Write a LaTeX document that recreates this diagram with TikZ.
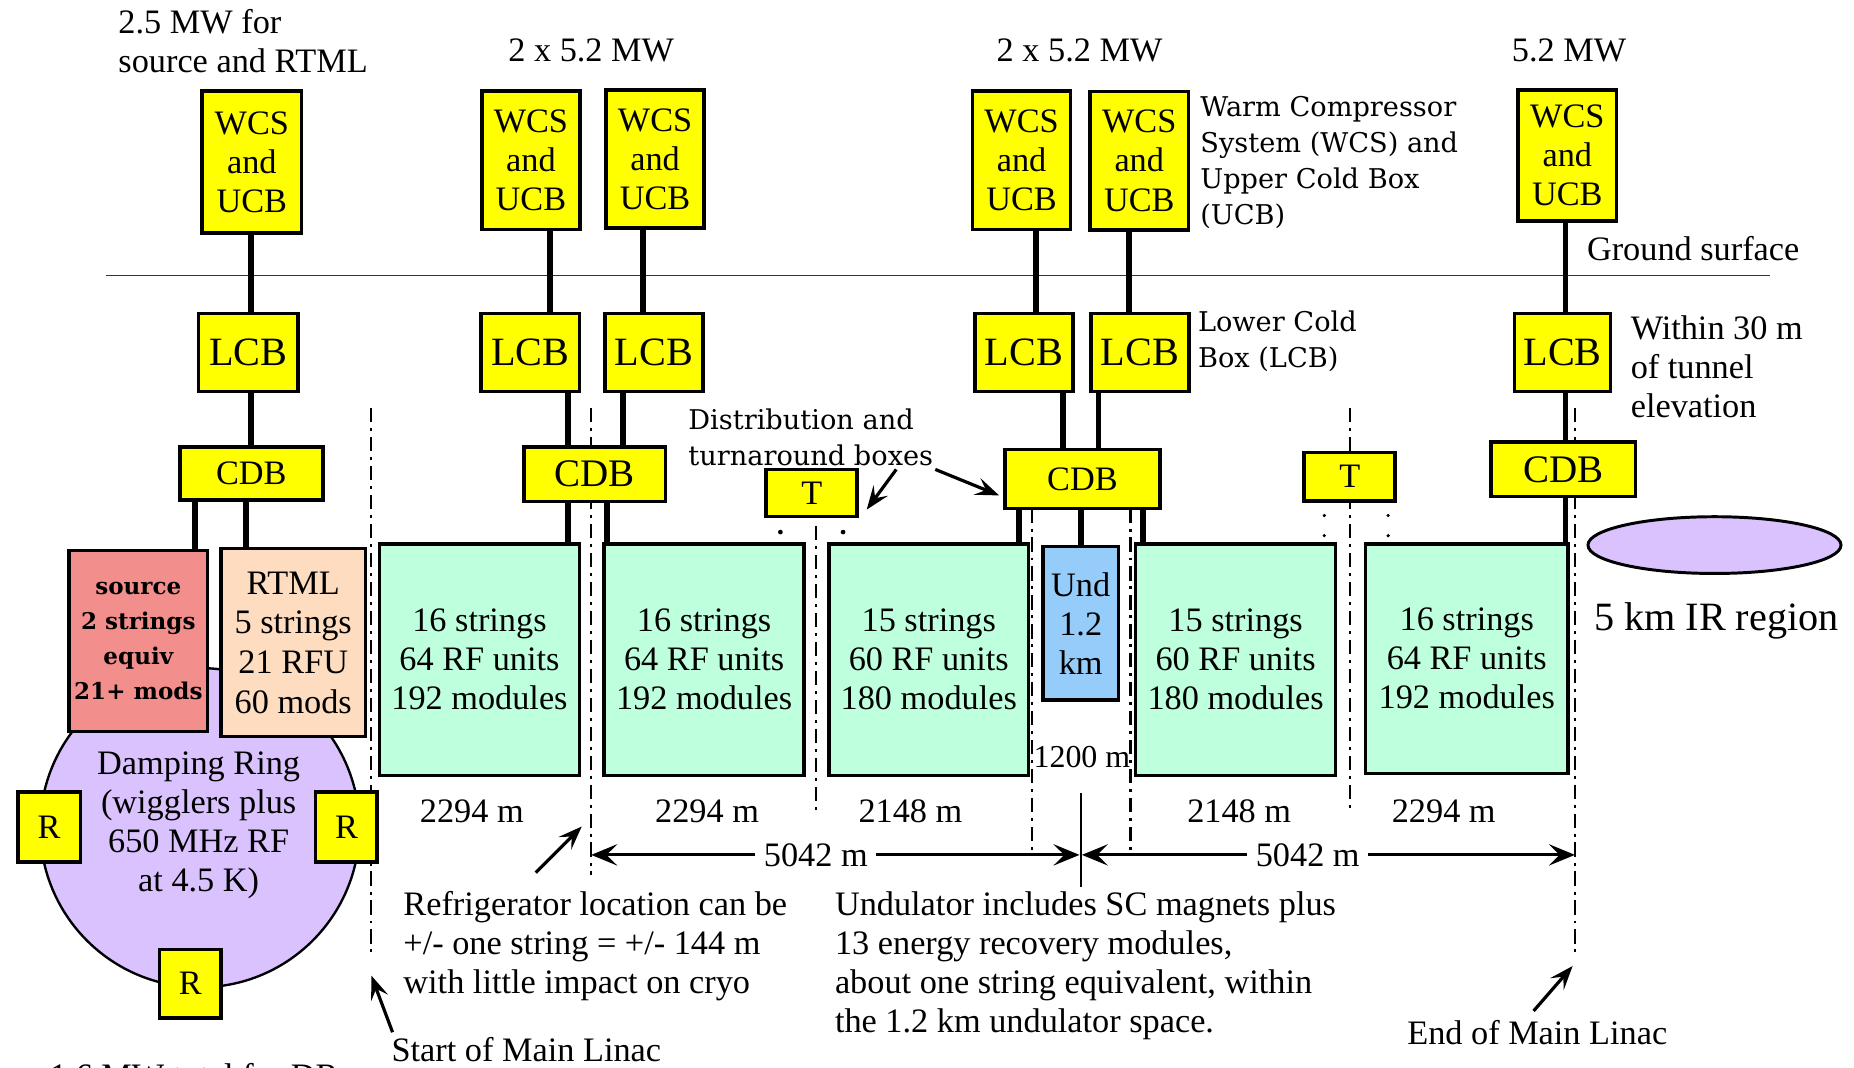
\documentclass[tikz,border=0pt]{standalone}
\usepackage{fontspec}
\setmainfont{Liberation Serif}
\newfontfamily\widefont{DejaVu Serif}
\usetikzlibrary{arrows.meta,shapes.geometric}
\definecolor{ylw}{RGB}{255,255,0}
\definecolor{mint}{RGB}{190,255,222}
\definecolor{salmon}{RGB}{242,142,140}
\definecolor{peach}{RGB}{253,220,192}
\definecolor{lav}{RGB}{218,194,255}
\definecolor{undblue}{RGB}{150,204,250}
\begin{document}
\begin{tikzpicture}[x=1pt,y=-1pt,
  box/.style={draw, line width=3pt, inner sep=0pt, align=center, font=\fontsize{29pt}{33pt}\selectfont},
  ybox/.style={box, fill=ylw},
  wcsbox/.style={ybox, minimum width=83pt, minimum height=117pt},
  lcbbox/.style={ybox, minimum width=83pt, minimum height=66pt, font=\fontsize{34pt}{40pt}\selectfont},
  gbox/.style={box, fill=mint, minimum width=169pt, minimum height=196pt},
  rbox/.style={ybox, minimum width=53pt, minimum height=59pt},
  txt/.style={inner sep=0pt, font=\fontsize{29pt}{33pt}\selectfont},
  wtxt/.style={inner sep=0pt, font=\widefont\fontsize{23pt}{30.5pt}\selectfont},
  conn/.style={line width=5pt},
  dd/.style={line width=2pt, dash pattern=on 12pt off 5pt on 2.5pt off 5pt},
  dim/.style={line width=2.5pt, -{Stealth[length=22pt,width=18pt,inset=9pt]}},
  ann/.style={line width=2.7pt, -{Stealth[length=20pt,width=15pt,inset=8pt]}},
  dotl/.style={line width=3pt, line cap=round, dash pattern=on 0pt off 17pt}
]
\useasboundingbox (0,0) rectangle (1568,903);
\fill[white] (0,0) rectangle (1568,903);

% ---------- dash-dot boundary lines (behind boxes)
\draw[dd] (314,345) -- (314,810);
\draw[dd] (500,345) -- (500,740);
\draw[dd] (690,445) -- (690,685);
\draw[dd] (873,430) -- (873,723);
\draw[dd] (956,430) -- (956,723);
\draw[dd] (1142,345) -- (1142,687);
\draw[dd] (1332,345) -- (1332,810);
% dots under T boxes
\fill (660,450) circle (2pt);
\fill (713,450) circle (2pt);
\draw[dotl] (1120,436) -- (1120,455);
\draw[dotl] (1174,436) -- (1174,455);

% ground surface
\draw[line width=1.5pt, black!80] (90,233) -- (1497,233);

% ---------- damping ring
\node[circle, draw, line width=2pt, fill=lav, minimum size=270pt, inner sep=0pt] (dr) at (169,700) {};
\node[txt, align=center] (drt) at (168,698) {Damping Ring\\(wigglers plus\\650 MHz RF\\at 4.5 K)};

% ---------- WCS / UCB boxes
\node[wcsbox, minimum width=84pt, minimum height=120pt] (w1) at (213,137) {WCS\\and\\UCB};
\node[wcsbox] (w2) at (449,135.5) {WCS\\and\\UCB};
\node[wcsbox] (w3) at (554,134.5) {WCS\\and\\UCB};
\node[wcsbox] (w4) at (864,135.5) {WCS\\and\\UCB};
\node[wcsbox] (w5) at (963.5,136) {WCS\\and\\UCB};
\node[wcsbox, minimum height=111pt] (w6) at (1325.5,131.5) {WCS\\and\\UCB};

% ---------- LCB boxes
\node[lcbbox, minimum width=84pt] (l1) at (210,298) {LCB};
\node[lcbbox] (l2) at (448.5,298) {LCB};
\node[lcbbox] (l3) at (553,298) {LCB};
\node[lcbbox] (l4) at (866,298) {LCB};
\node[lcbbox] (l5) at (964,298) {LCB};
\node[lcbbox, minimum width=81pt] (l6) at (1321.5,298) {LCB};

% ---------- CDB boxes
\node[ybox, minimum width=121pt, minimum height=45pt] (c1) at (212.5,400.5) {CDB};
\node[ybox, minimum width=120pt, minimum height=46pt, font=\fontsize{33pt}{38pt}\selectfont] (c2) at (503,401) {CDB};
\node[ybox, minimum width=131pt, minimum height=50pt] (c3) at (915.5,405) {CDB};
\node[ybox, minimum width=122pt, minimum height=46pt, font=\fontsize{33pt}{38pt}\selectfont] (c4) at (1322,397) {CDB};

% ---------- turnaround boxes
\node[ybox, minimum width=77pt, minimum height=40pt] (t1) at (686.5,417) {T};
\node[ybox, minimum width=77pt, minimum height=41pt] (t2) at (1141.5,403) {T};

% ---------- linac boxes
\node[box, fill=salmon, minimum width=117pt, minimum height=153pt,
      font=\widefont\bfseries\fontsize{19.5pt}{29.5pt}\selectfont] (src) at (117,542)
      {source\\2 strings\\equiv\\21+ mods};
\node[box, fill=peach, minimum width=122pt, minimum height=159pt,
      font=\fontsize{29pt}{33.5pt}\selectfont] (rtml) at (248,543.5)
      {RTML\\5 strings\\21 RFU\\60 mods};
\node[gbox] (g1) at (405.5,558) {16 strings\\64 RF units\\192 modules};
\node[gbox] (g2) at (595.5,558) {16 strings\\64 RF units\\192 modules};
\node[gbox] (g3) at (785.5,558) {15 strings\\60 RF units\\180 modules};
\node[box, fill=undblue, minimum width=64pt, minimum height=130pt] (und) at (914,527) {Und\\1.2\\km};
\node[gbox] (g4) at (1045,558) {15 strings\\60 RF units\\180 modules};
\node[gbox, minimum width=171pt, minimum height=194pt] (g5) at (1240.5,557) {16 strings\\64 RF units\\192 modules};

% ---------- refrigerators on damping ring
\node[rbox] (rl) at (41.5,699.5) {R};
\node[rbox, minimum width=52pt] (rr) at (293,699.5) {R};
\node[rbox, minimum width=52pt, minimum height=58pt] (rb) at (161,832) {R};

% ---------- IR ellipse
\node[ellipse, draw, line width=2.5pt, fill=lav, minimum width=214pt, minimum height=48pt, inner sep=0pt] (ir) at (1450,461) {};

% ---------- column x positions
\foreach \n/\xx in {k165/165,k208/208,k212/212,k465/465,k544/544,k876/876,k955/955,k1324/1324,
                     k480/480,k527/527,k513/513,k899/899,k929/929,k862/862,k914/914,k967/967}
  {\coordinate (\n) at (\xx,0);}

% ---------- thick connectors
\draw[conn] (w1.south -| k212) -- (l1.north -| k212);
\draw[conn] (w2.south -| k465) -- (l2.north -| k465);
\draw[conn] (w3.south -| k544) -- (l3.north -| k544);
\draw[conn] (w4.south -| k876) -- (l4.north -| k876);
\draw[conn] (w5.south -| k955) -- (l5.north -| k955);
\draw[conn] (w6.south -| k1324) -- (l6.north -| k1324);
\draw[conn] (l1.south -| k212) -- (c1.north -| k212);
\draw[conn] (l2.south -| k480) -- (c2.north -| k480);
\draw[conn] (l3.south -| k527) -- (c2.north -| k527);
\draw[conn] (l4.south -| k899) -- (c3.north -| k899);
\draw[conn] (l5.south -| k929) -- (c3.north -| k929);
\draw[conn] (l6.south -| k1324) -- (c4.north -| k1324);
\draw[conn] (c1.south -| k165) -- (src.north -| k165);
\draw[conn] (c1.south -| k208) -- (rtml.north -| k208);
\draw[conn] (c2.south -| k480) -- (g1.north -| k480);
\draw[conn] (c2.south -| k513) -- (g2.north -| k513);
\draw[conn] (c3.south -| k862) -- (g3.north -| k862);
\draw[conn] (c3.south -| k914) -- (und.north -| k914);
\draw[conn] (c3.south -| k967) -- (g4.north -| k967);
\draw[conn] (c4.south -| k1324) -- (g5.north -| k1324);

% ---------- lengths
\node[txt] (m1) at (399,686) {2294 m};
\node[txt] (m2) at (598,686) {2294 m};
\node[txt] (m3) at (770,686) {2148 m};
\node[txt] (m4) at (1048,686) {2148 m};
\node[txt] (m5) at (1221,686) {2294 m};
\node[txt, font=\fontsize{27pt}{30pt}\selectfont] (m1200) at (915,640) {1200 m};

% ---------- 5042 m dimension arrows
\coordinate (pB) at (500,723);
\coordinate (pU1) at (913,723);
\coordinate (pU2) at (915,723);
\coordinate (pG) at (1332,723);
\coordinate (uTop) at (914,671);
\coordinate (uBot) at (914,750);
\draw[line width=2pt] (uTop) -- (uBot);
\node[txt, inner xsep=7pt] (d1) at (690,723) {5042 m};
\node[txt, inner xsep=7pt] (d2) at (1106,723) {5042 m};
\draw[dim] (d1.west) -- (pB);
\draw[dim] (d1.east) -- (pU1);
\draw[dim] (d2.west) -- (pU2);
\draw[dim] (d2.east) -- (pG);

% ---------- labels
\node[txt, anchor=west, align=left] (pw1) at (100,35) {2.5 MW for\\source and RTML};
\node[txt] (pw2) at (500,43) {2 x 5.2 MW};
\node[txt] (pw3) at (913,43) {2 x 5.2 MW};
\node[txt] (pw4) at (1327,43) {5.2 MW};
\node[wtxt, anchor=west, align=left] (wcsl) at (1015,137.5) {Warm Compressor\\System (WCS) and\\Upper Cold Box\\(UCB)};
\node[txt, anchor=west] (gs) at (1342,210) {Ground surface};
\node[wtxt, anchor=west, align=left] (lcbl) at (1013,288.5) {Lower Cold\\Box (LCB)};
\node[txt, anchor=west, align=left] (w30) at (1379,310.5) {Within 30 m\\of tunnel\\elevation};
\node[wtxt, anchor=west, align=left] (distl) at (582,370) {Distribution and\\turnaround boxes};
\node[txt, anchor=west, font=\fontsize{34pt}{40pt}\selectfont] (irl) at (1348,525) {5 km IR region};
\node[txt, anchor=west, align=left] (refl) at (341,800) {Refrigerator location can be\\+/- one string = +/- 144 m\\with little impact on cryo};
\node[txt, anchor=west] (startl) at (331,888) {Start of Main Linac};
\node[txt, anchor=west, align=left] (undl) at (706,816.5) {Undulator includes SC magnets plus\\13 energy recovery modules,\\about one string equivalent, within\\the 1.2 km undulator space.};
\node[txt, anchor=west] (endl) at (1190,873) {End of Main Linac};
\node[txt, anchor=base west] (drl) at (42,920) {1.6 MW total for DR};

% ---------- annotation arrows
\coordinate (a1s) at (758,397);
\coordinate (a1e) at (733,431);
\coordinate (a2s) at (791,397);
\coordinate (a2e) at (845,419);
\coordinate (a3s) at (453,738);
\coordinate (a3e) at (492,699);
\coordinate (a4s) at (332,873);
\coordinate (a4e) at (314,825);
\coordinate (a5s) at (1297,855);
\coordinate (a5e) at (1330,817);
\draw[ann] (a1s) -- (a1e);
\draw[ann] (a2s) -- (a2e);
\draw[ann] (a3s) -- (a3e);
\draw[ann] (a4s) -- (a4e);
\draw[ann] (a5s) -- (a5e);
\end{tikzpicture}
\end{document}
